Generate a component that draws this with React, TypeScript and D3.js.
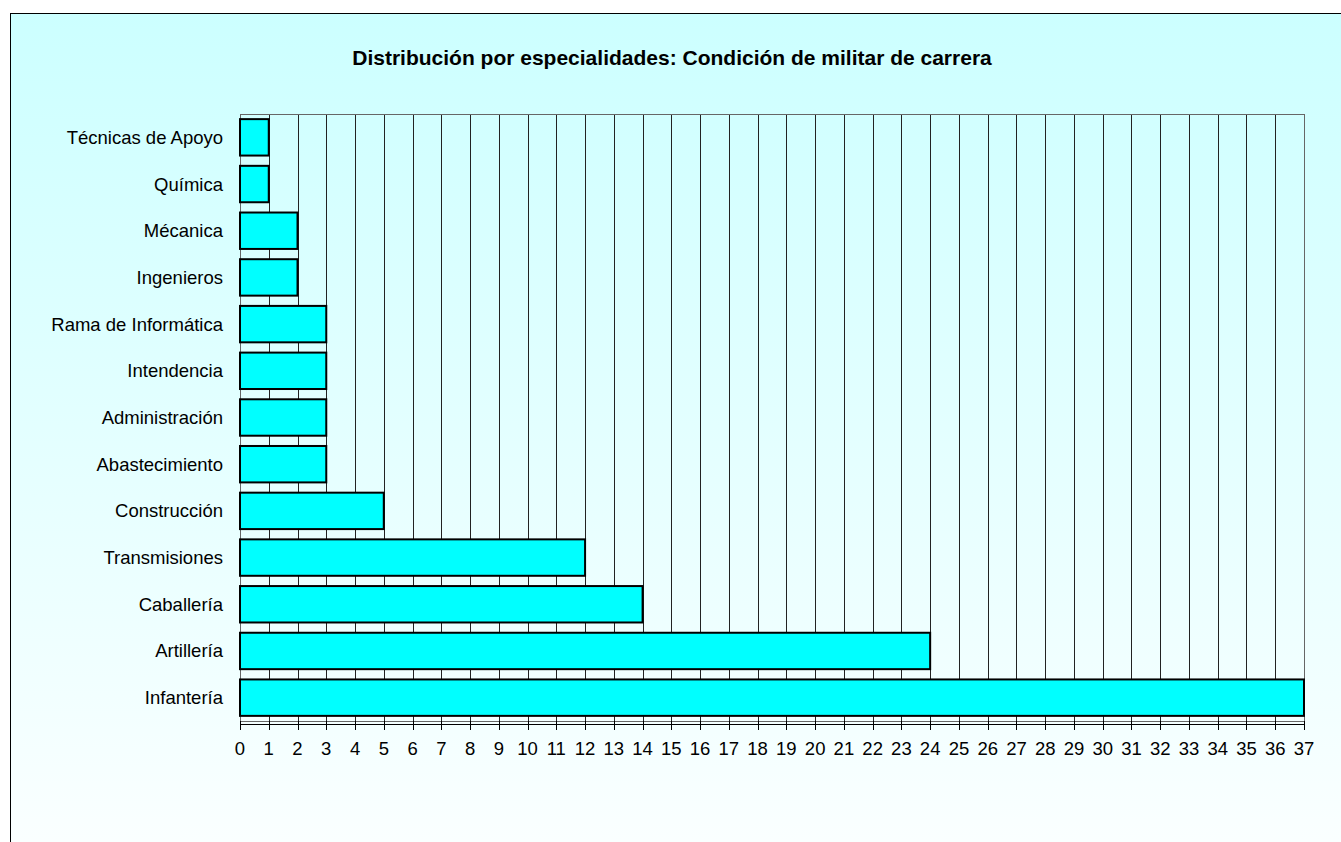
import * as d3 from 'd3';

const categories = [
  'Técnicas de Apoyo',
  'Química',
  'Mécanica',
  'Ingenieros',
  'Rama de Informática',
  'Intendencia',
  'Administración',
  'Abastecimiento',
  'Construcción',
  'Transmisiones',
  'Caballería',
  'Artillería',
  'Infantería',
];
const values = [1, 1, 2, 2, 3, 3, 3, 3, 5, 12, 14, 24, 37];
const xTicks = d3.range(0, 38);
const title = 'Distribución por especialidades: Condición de militar de carrera';

const W = 1341;
const H = 842;
const plot = { left: 240, right: 1304, top: 114, bottom: 721 };
const font = 'Arial, "Liberation Sans", sans-serif';

const App = () => {
  const x = d3.scaleLinear().domain([0, 37]).range([plot.left, plot.right]);
  const y = d3
    .scaleBand()
    .domain(categories)
    .range([plot.top, plot.bottom])
    .paddingInner(0.22)
    .paddingOuter(0.11);

  return (
    <svg
      width={W}
      height={H}
      style={{ position: 'absolute', left: 0, top: 0 }}
      fontFamily={font}
    >
      <defs>
        <linearGradient id="bg" x1="0" y1="0" x2="0" y2="1">
          <stop offset="0" stopColor="#ccffff" />
          <stop offset="1" stopColor="#fcffff" />
        </linearGradient>
      </defs>
      <rect x={0} y={0} width={W} height={H} fill="#fff" />
      <rect x={10.5} y={13.5} width={W + 20} height={H + 20} fill="url(#bg)" stroke="#000" strokeWidth={1} />

      <text x={672} y={65} textAnchor="middle" fontSize={21} fontWeight="bold" fill="#000">
        {title}
      </text>

      {/* grid */}
      {xTicks.map((t) => (
        <line
          key={'g' + t}
          x1={Math.round(x(t)) + 0.5}
          x2={Math.round(x(t)) + 0.5}
          y1={plot.top}
          y2={plot.bottom}
          stroke="#222"
          strokeWidth={1}
        />
      ))}
      <rect
        x={plot.left + 0.5}
        y={plot.top + 0.5}
        width={plot.right - plot.left}
        height={plot.bottom - plot.top}
        fill="none"
        stroke="#666"
        strokeWidth={1}
      />

      {/* bars */}
      {categories.map((c, i) => (
        <rect
          key={c}
          x={x(0)}
          y={y(c)!}
          width={x(values[i]) - x(0)}
          height={y.bandwidth()}
          fill="#00ffff"
          stroke="#000"
          strokeWidth={2}
        />
      ))}

      {/* category labels */}
      {categories.map((c) => (
        <text
          key={'l' + c}
          x={223}
          y={y(c)! + y.bandwidth() / 2}
          dy="0.35em"
          textAnchor="end"
          fontSize={18.5}
          fill="#000"
        >
          {c}
        </text>
      ))}

      {/* x axis */}
      <line x1={plot.left} x2={plot.right + 1} y1={724.5} y2={724.5} stroke="#000" strokeWidth={1} />
      {xTicks.map((t) => (
        <g key={'t' + t}>
          <line
            x1={Math.round(x(t)) + 0.5}
            x2={Math.round(x(t)) + 0.5}
            y1={721}
            y2={730}
            stroke="#000"
            strokeWidth={1}
          />
          <text x={x(t)} y={755} textAnchor="middle" fontSize={18.5} fill="#000">
            {t}
          </text>
        </g>
      ))}
    </svg>
  );
};

export default App;
